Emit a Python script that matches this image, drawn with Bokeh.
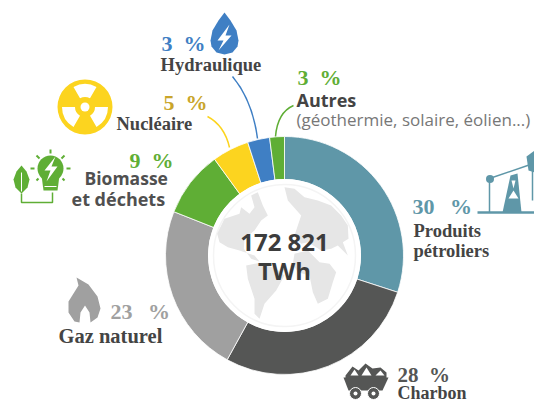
import math
from bokeh.plotting import figure
from bokeh.models import Range1d
from bokeh.core.properties import value
from bokeh.embed import file_html
from bokeh.resources import INLINE

# --- data ---
categories = ["Produits pétroliers", "Charbon", "Gaz naturel", "Biomasse et déchets", "Nucléaire", "Hydraulique", "Autres"]
drawn_shares = [30, 28, 23, 9, 5, 3, 2]
slice_colors = ["#5F97A8", "#555655", "#A0A0A0", "#5FAE35", "#FCD41F", "#3F7FC4", "#5FAE35"]
total_label = ["172 821", "TWh"]

W, H = 534, 403
def Y(v):
    return 403 - v
def ys(a):
    return [Y(v) for v in a]

p = figure(width=W, height=H, x_range=Range1d(0, W), y_range=Range1d(0, H),
           toolbar_location=None, output_backend="svg", min_border=0)
p.axis.visible = False
p.grid.visible = False
p.outline_line_color = None
p.background_fill_color = "white"

SERIF = value("Liberation Serif")
SANS = value("Open Sans")

def txt(x, y, s, size, color, font=SANS, style="normal", align="left"):
    p.text([x], [Y(y)], text=[s], text_font=font, text_font_size=f"{size}px", text_font_style=style,
           text_color=color, text_align=align, text_baseline="middle")

def poly(xs, yv, color):
    p.patch(xs, ys(yv), fill_color=color, line_color=None)

# --- donut ---
cx, cy = 284, Y(255)
acc = 0
tot = sum(drawn_shares)
for share, col in zip(drawn_shares, slice_colors):
    a0 = math.pi / 2 - 2 * math.pi * (acc + share) / tot
    a1 = math.pi / 2 - 2 * math.pi * acc / tot
    p.annular_wedge([cx], [cy], inner_radius=76, outer_radius=119, start_angle=a0, end_angle=a1,
                    fill_color=col, line_color="white", line_width=0.8)
    acc += share

# --- globe ---
p.circle([cx], [cy], radius=76.5, fill_color="white", line_color=None)
p.circle([cx], [cy], radius=71, fill_color=None, line_color="#F4F4F4", line_width=1.5)
mx = lambda a: [204 + v / 3 for v in a]
my = lambda a: [175 + v / 3 for v in a]
GLOBE = "#E6E6E6"
poly(mx([38, 60, 105, 110, 135, 150, 140, 160, 175, 190, 170, 150, 120, 118, 140, 165, 150, 105, 70, 45]),
     my([175, 130, 115, 95, 115, 95, 60, 50, 90, 120, 135, 165, 190, 220, 250, 258, 240, 225, 215, 200]), GLOBE)
poly(mx([165, 215, 240, 215, 180, 165, 150, 150, 130, 125]),
     my([262, 280, 300, 345, 385, 430, 415, 370, 310, 270]), GLOBE)
poly(mx([240, 270, 300, 340, 380, 410, 430, 432, 415, 430, 400, 380, 350, 330, 310, 290, 270, 290, 250]),
     my([35, 40, 65, 75, 90, 120, 150, 190, 200, 240, 210, 220, 225, 212, 200, 205, 180, 120, 75]), GLOBE)
poly(mx([270, 310, 345, 375, 395, 385, 370, 340, 325, 315, 280, 265]),
     my([235, 225, 260, 265, 290, 320, 370, 385, 350, 300, 290, 265]), GLOBE)

txt(cx, 241, total_label[0], 24, "#3C3C3C", style="bold", align="center")
txt(cx, 270, total_label[1], 24, "#3C3C3C", style="bold", align="center")

# --- leader lines ---
def lead(x0, y0, x1, y1, c_x, c_y, col):
    p.quadratic([x0], [Y(y0)], [x1], [Y(y1)], [c_x], [Y(c_y)], line_color=col, line_width=1.5)
lead(232, 76, 257, 138, 252, 100, "#3F7FC4")
lead(207, 116, 229, 147, 224, 125, "#FCD41F")
lead(293, 105, 275, 136, 277, 112, "#5FAE35")

# --- labels ---
DARK = "#444444"
txt(161, 43, "3\u2002%", 22, "#3F7FC4", SERIF, "bold")
txt(160, 64, "Hydraulique", 18.5, DARK, SERIF, "bold")
txt(163, 102, "5\u2002%", 22, "#C9A52B", SERIF, "bold")
txt(116, 123, "Nucléaire", 18.5, DARK, SERIF, "bold")
txt(129, 160, "9\u2002%", 22, "#5FAE35", SERIF, "bold")
txt(84, 177, "Biomasse", 17.5, "#505050", style="bold")
txt(71, 198, "et déchets", 18, "#505050", style="bold")
txt(297, 77, "3\u2002%", 22, "#5FAE35", SERIF, "bold")
txt(296, 99, "Autres", 18, DARK, style="bold")
txt(296, 119, "(géothermie, solaire, éolien...)", 17, "#777777")
txt(412, 206, "30\u2002\u2009%", 22, "#5F97A8", SERIF, "bold")
txt(413, 230, "Produits", 18.5, DARK, SERIF, "bold")
txt(413, 250, "pétroliers", 18.5, DARK, SERIF, "bold")
txt(110, 311, "23\u2002\u2009%", 22, "#A0A0A0", SERIF, "bold")
txt(58, 335, "Gaz naturel", 20.5, DARK, SERIF, "bold")
txt(397, 374, "28\u2002%", 21, "#555655", SERIF, "bold")
txt(397, 392, "Charbon", 18, DARK, SERIF, "bold")

# --- icons ---
BLUE = "#3F7FC4"
# drop
poly([224, 230, 236, 238, 237, 232, 224, 216, 211, 210, 212, 218],
     [12, 20, 30, 40, 46, 52, 54, 52, 46, 40, 30, 20], BLUE)
poly([229, 217, 223, 218, 231, 225], [24, 40, 40, 50, 35, 35], "white")

# radiation
YEL = "#FCD41F"
p.circle([84.5], [Y(106.5)], radius=27.5, fill_color=YEL, line_color=None)
for mid in (90, 210, 330):
    p.annular_wedge([84.5], [Y(106.5)], inner_radius=10, outer_radius=23,
                    start_angle=math.radians(mid - 30), end_angle=math.radians(mid + 30),
                    fill_color="white", line_color=None)
p.circle([84.5], [Y(106.5)], radius=4.5, fill_color="white", line_color=None)

# bulb and leaf
G = "#5FAE35"
p.circle([50], [Y(168)], radius=13, fill_color=G, line_color=None)
poly([41, 59, 57, 43], [175, 175, 190, 190], G)
p.segment([44], [Y(186)], [56], [Y(186)], line_color="white", line_width=1)
poly([55, 44, 50, 46, 57, 51], [156, 170, 170, 181, 166, 166], "white")
for x0, y0, x1, y1 in [(50, 149, 50, 153), (36, 155, 39, 158), (64, 155, 61, 158),
                       (30, 168, 34, 168), (66, 168, 70, 168), (36, 180, 38, 178), (64, 180, 62, 178)]:
    p.segment([x0], [Y(y0)], [x1], [Y(y1)], line_color=G, line_width=2)
poly([21, 26, 29, 27, 21, 15, 13, 16], [165, 171, 179, 187, 193, 187, 179, 171], G)
p.segment([21], [Y(172)], [21], [Y(191)], line_color="white", line_width=1)
p.line([21, 21, 52, 52], ys([193, 202, 202, 192]), line_color=G, line_width=1.5)

# flame
FL = "#A0A0A0"
poly([76, 88, 97, 100, 97, 90, 89, 84.5, 80, 79, 74, 68, 68, 73, 78],
     [277, 284, 296, 308, 317, 322, 312, 305, 312, 322, 321, 312, 301, 293, 285], FL)

# mine cart
C = "#555655"
poly([343, 388, 382, 348], [377, 377, 390, 390], C)
poly([345, 352, 358, 365, 372, 380, 386, 386, 345], [375, 366, 370, 363, 368, 367, 372, 378, 378], C)
poly([350, 354, 358], [375, 369, 375], "white")
poly([361, 366, 371], [375, 367, 375], "white")
poly([375, 380, 384], [375, 370, 375], "white")
for wx in (355, 373):
    p.circle([wx], [Y(393)], radius=6, fill_color=C, line_color="white", line_width=1)
    p.circle([wx], [Y(393)], radius=2, fill_color="white", line_color=None)

# pump jack
T = "#5F97A8"
p.segment([477], [Y(212)], [534], [Y(212)], line_color=T, line_width=2.5)
p.segment([489], [Y(180)], [489], [Y(212)], line_color=T, line_width=1.5)
p.circle([489.5], [Y(178.5)], radius=4, fill_color=T, line_color=None)
p.segment([489], [Y(178)], [530], [Y(164)], line_color=T, line_width=1.5)
poly([510, 517, 521, 502], [175, 173, 212, 212], T)
poly([511, 515, 513], [180, 180, 188], "white")
poly([508, 518, 513], [198, 198, 190], "white")
poly([526, 534, 534, 528], [156, 150, 172, 170], T)
p.segment([532], [Y(170)], [532], [Y(200)], line_color=T, line_width=1.5)

open("out.html", "w").write(file_html(p, INLINE))
